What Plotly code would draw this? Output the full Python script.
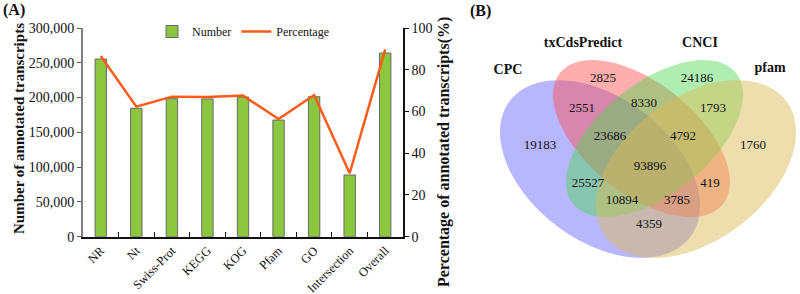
import numpy as np
import plotly.graph_objects as go

W, H = 800, 294

# ---------------- data ----------------
categories = ["NR", "Nt", "Swiss-Prot", "KEGG", "KOG", "Pfam", "GO", "Intersection", "Overall"]
numbers = [255400, 184600, 198400, 198000, 200800, 167700, 201200, 88700, 264000]
percentages = [86.6, 62.3, 67.1, 66.9, 67.6, 56.4, 67.9, 30.4, 89.8]
left_ticks = [0, 50000, 100000, 150000, 200000, 250000, 300000]
right_ticks = [0, 20, 40, 60, 80, 100]

venn_sets = ["CPC", "txCdsPredict", "CNCI", "pfam"]
venn_counts = [2825, 24186, 2551, 8330, 1793, 23686, 4792, 19183, 1760,
               93896, 25527, 419, 10894, 3785, 4359]

# ---------------- layout helpers (pixel geometry) ----------------
FONT = "Liberation Serif"
px_x = lambda v: v / W
px_y = lambda v: 1 - v / H

venn_label_pos = [(603, 79), (697, 79), (582, 109), (644, 104), (713, 109),
                  (610, 137), (683, 137), (540, 146), (753, 146),
                  (650, 167), (588, 184), (710, 184), (622, 201), (677, 201), (649, 225)]
set_label_pos = [(508, 70), (583, 43), (700, 43), (770, 68)]
# ellipse geometry: centre x, centre y, semi-major, semi-minor, angle(deg), colour
ellipses = [
    (600, 169, 113, 71.5, 37, "rgba(95,95,255,0.45)"),
    (641.5, 138.5, 104.6, 55.2, 38.9, "rgba(255,75,75,0.45)"),
    (654.5, 138.5, 104.6, 55.2, -38.9, "rgba(80,215,80,0.45)"),
    (696, 169, 113, 71.5, -37, "rgba(220,185,85,0.48)"),
]


def ellipse_path(cx, cy, a, b, ang):
    t = np.linspace(0, 2 * np.pi, 121)
    th = np.deg2rad(ang)
    xs = cx + a * np.cos(t) * np.cos(th) - b * np.sin(t) * np.sin(th)
    ys = cy + a * np.cos(t) * np.sin(th) + b * np.sin(t) * np.cos(th)
    pts = [f"{x:.2f},{y:.2f}" for x, y in zip(xs, ys)]
    return "M" + " L".join(pts) + " Z"


fig = go.Figure()

fig.add_trace(go.Bar(
    x=categories, y=numbers, name="Number", width=0.32,
    marker=dict(color="#8CC63F", line=dict(color="#6a6a6a", width=1)),
    xaxis="x", yaxis="y",
))
fig.add_trace(go.Scatter(
    x=categories, y=percentages, name="Percentage", mode="lines",
    line=dict(color="#FF5A1A", width=2.5),
    xaxis="x", yaxis="y2",
))

# Venn counts as a text trace on a full-figure pixel overlay axis
fig.add_trace(go.Scatter(
    x=[p[0] for p in venn_label_pos], y=[p[1] for p in venn_label_pos],
    text=[str(c) for c in venn_counts], mode="text",
    textfont=dict(family=FONT, size=13, color="#111"),
    xaxis="x3", yaxis="y3", showlegend=False, hoverinfo="skip",
))
fig.add_trace(go.Scatter(
    x=[p[0] for p in set_label_pos], y=[p[1] for p in set_label_pos],
    text=[f"<b>{s}</b>" for s in venn_sets], mode="text",
    textfont=dict(family=FONT, size=14, color="#111"),
    xaxis="x3", yaxis="y3", showlegend=False, hoverinfo="skip",
))

shapes = []
for cx, cy, a, b, ang, col in ellipses:
    shapes.append(dict(type="path", path=ellipse_path(cx, cy, a, b, ang),
                       xref="x3", yref="y3", fillcolor=col,
                       line=dict(width=0), layer="below"))

ytick_font = dict(family=FONT, size=14, color="#111")
xtick_font = dict(family=FONT, size=12.5, color="#111")


def ann(text, x, y, size, angle=0):
    return dict(text=text, x=px_x(x), y=px_y(y), xref="paper", yref="paper",
                xanchor="center", yanchor="middle", textangle=angle,
                showarrow=False, font=dict(family=FONT, size=size, color="#111"))


fig.update_layout(
    template="none",
    width=W, height=H, autosize=False,
    margin=dict(l=0, r=0, t=0, b=0, pad=0, autoexpand=False),
    paper_bgcolor="white", plot_bgcolor="rgba(0,0,0,0)",
    font=dict(family=FONT, color="#111"),
    hovermode=False,
    xaxis=dict(domain=[px_x(83), px_x(403)], anchor="y", type="category",
               range=[-0.5, 8.5], tickson="boundaries", ticks="inside",
               ticklen=5, tickwidth=1.2, tickcolor="#111", tickangle=-45,
               showline=True, linecolor="#111", linewidth=1.5,
               showgrid=False, zeroline=False, tickfont=xtick_font,
               automargin=False),
    yaxis=dict(domain=[px_y(236.7), px_y(28)], anchor="x", range=[0, 300000],
               tickvals=left_ticks, tickformat=",", ticks="outside",
               ticklen=4, tickwidth=1.2, tickcolor="#555",
               showline=True, linecolor="#7f7f7f", linewidth=2,
               showgrid=False, zeroline=False, tickfont=ytick_font,
               automargin=False),
    yaxis2=dict(overlaying="y", side="right", anchor="x", range=[0, 100],
                tickvals=right_ticks, ticks="outside", ticklen=4,
                tickwidth=1.2, tickcolor="#111",
                showline=True, linecolor="#111", linewidth=1.5,
                showgrid=False, zeroline=False, tickfont=ytick_font,
                automargin=False),
    xaxis3=dict(domain=[0, 1], anchor="y3", range=[0, W], visible=False,
                fixedrange=True, automargin=False),
    yaxis3=dict(domain=[0, 1], anchor="x3", range=[H, 0], visible=False,
                fixedrange=True, automargin=False),
    legend=dict(orientation="h", x=px_x(152), y=px_y(17), xanchor="left",
                yanchor="top", bgcolor="rgba(0,0,0,0)",
                font=dict(family=FONT, size=12, color="#111")),
    shapes=shapes,
    annotations=[
        ann("<b>(A)</b>", 14, 10, 16),
        ann("<b>(B)</b>", 481, 11, 16),
        ann("<b>Number of annotated transcripts</b>", 19, 129, 15, -90),
        ann("<b>Percentage of annotated transcripts(%)</b>", 444, 152, 16, -90),
    ],
)

fig.write_html("out.html")
